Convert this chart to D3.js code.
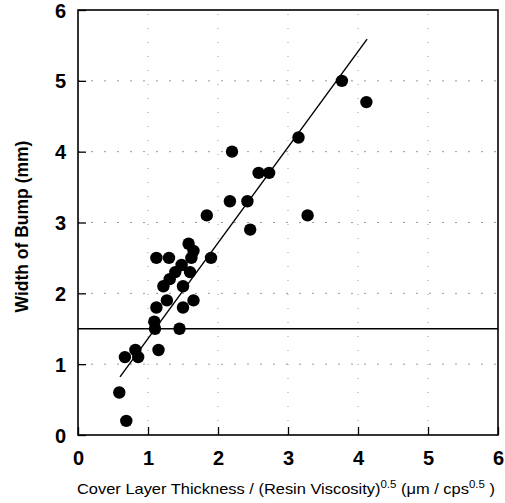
<!DOCTYPE html>
<html>
<head>
<meta charset="utf-8">
<script src="https://cdn.jsdelivr.net/npm/d3@7"></script>
<style>
  body { margin: 0; background: #fff; }
  text { font-family: "Liberation Sans", Arial, sans-serif; }
</style>
</head>
<body>
<div id="chart"></div>
<script>
const xVals = [0.59, 0.69, 0.67, 0.82, 0.86, 1.15, 1.10, 1.09, 1.45, 1.12, 1.27, 1.50, 1.65,
  1.22, 1.50, 1.31, 1.39, 1.60, 1.48, 1.12, 1.30, 1.62, 1.90, 1.65, 1.58, 1.84, 2.17, 2.42,
  2.46, 2.20, 2.58, 2.73, 3.15, 3.28, 3.77, 4.12];
const yVals = [0.6, 0.2, 1.1, 1.2, 1.1, 1.2, 1.5, 1.6, 1.5, 1.8, 1.9, 1.8, 1.9,
  2.1, 2.1, 2.2, 2.3, 2.3, 2.4, 2.5, 2.5, 2.5, 2.5, 2.6, 2.7, 3.1, 3.3, 3.3,
  2.9, 4.0, 3.7, 3.7, 4.2, 3.1, 5.0, 4.7];
// fitted line end points and the limit line
const fitX = [0.6, 4.13];
const fitY = [0.82, 5.59];
const limitY = 1.5;
const ticks = [0, 1, 2, 3, 4, 5, 6];

const width = 505, height = 503;
const margin = {top: 10, right: 7, bottom: 68, left: 78};

const svg = d3.select("#chart").append("svg")
  .attr("width", width)
  .attr("height", height);

const x = d3.scaleLinear().domain([0, 6]).range([margin.left, width - margin.right]);
const y = d3.scaleLinear().domain([0, 6]).range([height - margin.bottom, margin.top]);

// sparse dotted grid
svg.append("g").selectAll("line")
  .data(ticks.slice(1, 6))
  .enter().append("line")
  .attr("x1", d => x(d)).attr("x2", d => x(d))
  .attr("y1", y(0)).attr("y2", y(6))
  .attr("stroke", "#999").attr("stroke-width", 1)
  .attr("stroke-dasharray", "1,13");
svg.append("g").selectAll("line")
  .data(ticks.slice(1, 6))
  .enter().append("line")
  .attr("x1", x(0)).attr("x2", x(6))
  .attr("y1", d => y(d)).attr("y2", d => y(d))
  .attr("stroke", "#999").attr("stroke-width", 1)
  .attr("stroke-dasharray", "2,11");

// axes with inward ticks
const xAxis = svg.append("g")
  .attr("transform", `translate(0,${y(0)})`)
  .call(d3.axisBottom(x).tickValues(ticks).tickSize(-8).tickPadding(22).tickFormat(d3.format("d")));
const yAxis = svg.append("g")
  .attr("transform", `translate(${x(0)},0)`)
  .call(d3.axisLeft(y).tickValues(ticks).tickSize(-8).tickPadding(12).tickFormat(d3.format("d")));

[xAxis, yAxis].forEach(g => {
  g.select(".domain").remove();
  g.selectAll(".tick line").attr("stroke", "#000").attr("stroke-width", 1.3);
  g.selectAll(".tick text")
    .attr("fill", "#000")
    .style("font-size", "20px")
    .style("font-weight", "bold");
});
xAxis.selectAll(".tick text").attr("dy", "0.4em");
yAxis.selectAll(".tick text").attr("dy", "0.35em");

// frame
svg.append("rect")
  .attr("x", x(0)).attr("y", y(6))
  .attr("width", x(6) - x(0)).attr("height", y(0) - y(6))
  .attr("fill", "none").attr("stroke", "#000").attr("stroke-width", 1.6);

// limit line
svg.append("line")
  .attr("x1", x(0)).attr("x2", x(6))
  .attr("y1", y(limitY)).attr("y2", y(limitY))
  .attr("stroke", "#000").attr("stroke-width", 1.5);

// fit line
svg.append("line")
  .attr("x1", x(fitX[0])).attr("y1", y(fitY[0]))
  .attr("x2", x(fitX[1])).attr("y2", y(fitY[1]))
  .attr("stroke", "#000").attr("stroke-width", 1.4);

// points
svg.append("g").selectAll("circle")
  .data(xVals.map((v, i) => ({x: v, y: yVals[i]})))
  .enter().append("circle")
  .attr("cx", d => x(d.x))
  .attr("cy", d => y(d.y))
  .attr("r", 6.2)
  .attr("fill", "#000");

// axis titles
svg.append("text")
  .attr("transform", `translate(28,${(y(0) + y(6)) / 2 + 4}) rotate(-90)`)
  .attr("text-anchor", "middle")
  .style("font-size", "17.5px")
  .style("font-weight", "bold")
  .text("Width of Bump (mm)");

const xt = svg.append("text")
  .attr("x", (x(0) + x(6)) / 2 - 2)
  .attr("y", 494)
  .attr("text-anchor", "middle")
  .style("font-size", "15px")
  .attr("textLength", 418)
  .attr("lengthAdjust", "spacingAndGlyphs");
xt.append("tspan").text("Cover Layer Thickness / (Resin Viscosity)");
xt.append("tspan").attr("dy", -6).style("font-size", "10.5px").text("0.5");
xt.append("tspan").attr("dy", 6).text(" (\u03bcm / cps");
xt.append("tspan").attr("dy", -6).style("font-size", "10.5px").text("0.5");
xt.append("tspan").attr("dy", 6).text(" )");
</script>
</body>
</html>
